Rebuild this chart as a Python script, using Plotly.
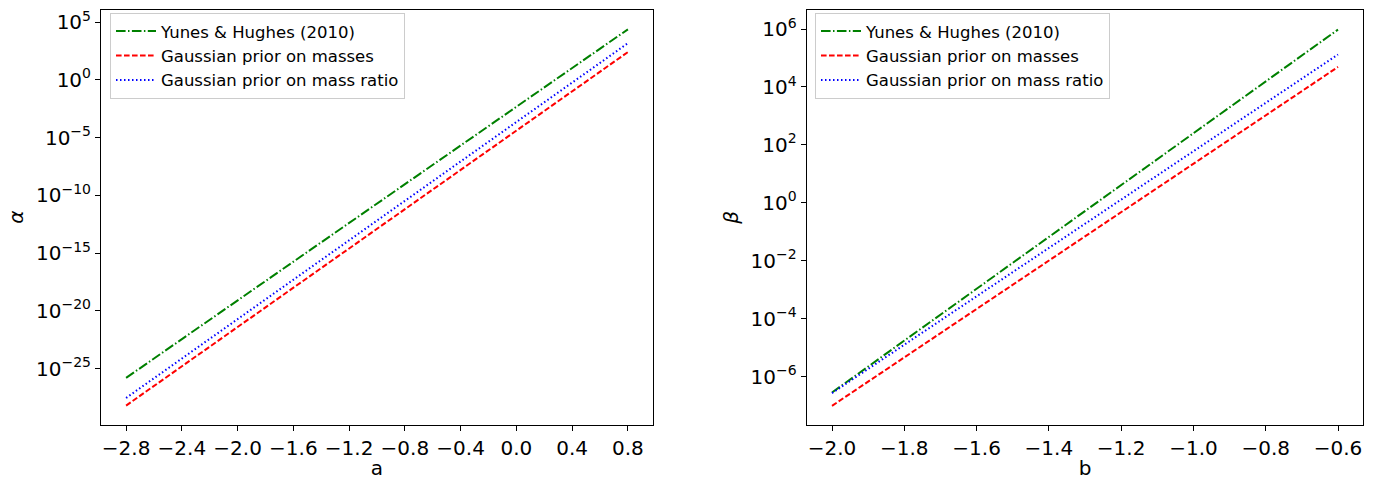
import plotly.graph_objects as go

# ---- data ----
a_vals = [-2.8, -2.4, -2.0, -1.6, -1.2, -0.8, -0.4, 0.0, 0.4, 0.8]
alpha_yunes = [1.58e-26, 3.55e-23, 7.94e-20, 1.78e-16, 4.07e-13, 9.12e-10, 2.04e-6, 4.57e-3, 10.5, 2.34e4]
alpha_masses = [6.3e-29, 1.58e-25, 3.98e-22, 1.0e-18, 2.51e-15, 6.31e-12, 1.58e-8, 3.98e-5, 0.1, 251.0]
alpha_ratio = [2.88e-28, 7.41e-25, 1.91e-21, 4.9e-18, 1.26e-14, 3.16e-11, 8.13e-8, 2.09e-4, 0.537, 1479.0]

b_vals = [-2.0, -1.8, -1.6, -1.4, -1.2, -1.0, -0.8, -0.6]
beta_yunes = [2.82e-7, 1.74e-5, 1.07e-3, 6.6e-2, 4.07, 251.0, 1.55e4, 9.55e5]
beta_masses = [9.77e-8, 4.57e-6, 2.14e-4, 1.0e-2, 0.468, 21.9, 1023.0, 4.9e4]
beta_ratio = [2.69e-7, 1.26e-5, 5.89e-4, 2.75e-2, 1.29, 60.3, 2818.0, 1.32e5]

labels = ["Yunes & Hughes (2010)", "Gaussian prior on masses", "Gaussian prior on mass ratio"]

a_ticks = [-2.8, -2.4, -2.0, -1.6, -1.2, -0.8, -0.4, 0.0, 0.4, 0.8]
b_ticks = [-2.0, -1.8, -1.6, -1.4, -1.2, -1.0, -0.8, -0.6]
alpha_exps = [-25, -20, -15, -10, -5, 0, 5]
beta_exps = [-6, -4, -2, 0, 2, 4, 6]

W, H = 1376, 480
FONT = "DejaVu Sans"
TICK_SIZE = 20
LEG_SIZE = 16.5

def fmt_num(v):
    s = f"{v:.1f}"
    return s.replace("-", "\u2212")

def fmt_pow(e):
    return "10<sup>" + str(e).replace("-", "\u2212") + "</sup>"

styles = [
    dict(color="#008000", dash="9.6px,2.4px,1.5px,2.4px"),
    dict(color="#ff0000", dash="5.6px,2.4px"),
    dict(color="#0000ff", dash="1.5px,2.5px"),
]

fig = go.Figure()
for ys, lab, st in zip([alpha_yunes, alpha_masses, alpha_ratio], labels, styles):
    fig.add_trace(go.Scatter(x=a_vals, y=ys, mode="lines", name=lab,
                             line=dict(color=st["color"], dash=st["dash"], width=2),
                             xaxis="x", yaxis="y", legend="legend"))
for ys, lab, st in zip([beta_yunes, beta_masses, beta_ratio], labels, styles):
    fig.add_trace(go.Scatter(x=b_vals, y=ys, mode="lines", name=lab,
                             line=dict(color=st["color"], dash=st["dash"], width=2),
                             xaxis="x2", yaxis="y2", legend="legend2"))

axis_common = dict(showline=True, linecolor="black", linewidth=1, mirror=True,
                   ticks="outside", ticklen=5, tickwidth=1, tickcolor="black",
                   showgrid=False, zeroline=False,
                   tickfont=dict(family=FONT, size=TICK_SIZE, color="black"))

legend_common = dict(xanchor="left", yanchor="top", itemwidth=40,
                     bgcolor="rgba(255,255,255,0.8)", bordercolor="#cccccc", borderwidth=1,
                     font=dict(family=FONT, size=LEG_SIZE, color="black"))

fig.update_layout(
    width=W, height=H,
    margin=dict(l=0, r=0, t=0, b=0),
    paper_bgcolor="white", plot_bgcolor="white",
    font=dict(family=FONT, color="black"),
    xaxis=dict(domain=[101 / W, 653 / W], range=[-2.98, 0.98],
               tickvals=a_ticks, ticktext=[fmt_num(v) for v in a_ticks],
               title=dict(text="a", font=dict(family=FONT, size=TICK_SIZE), standoff=6),
               anchor="y", **axis_common),
    yaxis=dict(domain=[1 - 428 / H, 1 - 8 / H], type="log", range=[-29.85, 6.05],
               tickvals=[10.0 ** e for e in alpha_exps], ticktext=[fmt_pow(e) for e in alpha_exps],
               title=dict(text="<i>α</i>", font=dict(family=FONT, size=TICK_SIZE), standoff=6),
               anchor="x", **axis_common),
    xaxis2=dict(domain=[806.7 / W, 1363.3 / W], range=[-2.07, -0.53],
                tickvals=b_ticks, ticktext=[fmt_num(v) for v in b_ticks],
                title=dict(text="b", font=dict(family=FONT, size=TICK_SIZE), standoff=6),
                anchor="y2", **axis_common),
    yaxis2=dict(domain=[1 - 428 / H, 1 - 8 / H], type="log", range=[-7.66, 6.66],
                tickvals=[10.0 ** e for e in beta_exps], ticktext=[fmt_pow(e) for e in beta_exps],
                title=dict(text="<i>β</i>", font=dict(family=FONT, size=TICK_SIZE), standoff=6),
                anchor="x2", **axis_common),
    legend=dict(x=110 / W, y=1 - 11 / H, **legend_common),
    legend2=dict(x=815 / W, y=1 - 11 / H, **legend_common),
)

fig.write_html("out.html", config={"displayModeBar": False},
               post_script="document.body.style.margin='0';document.body.style.overflow='hidden';")
